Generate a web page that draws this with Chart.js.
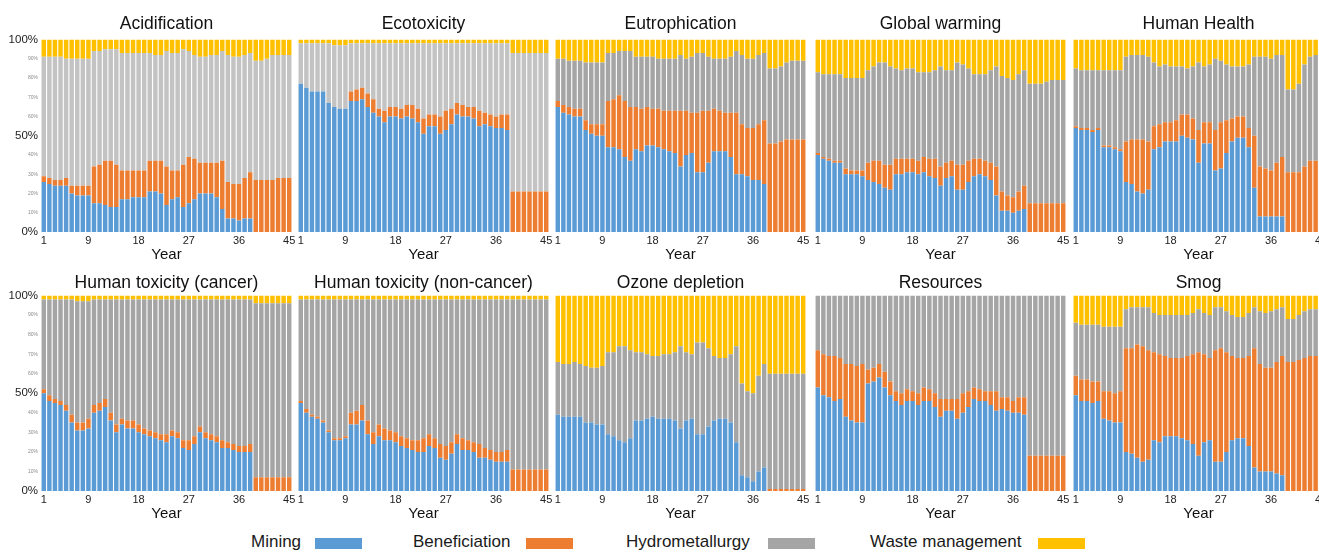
<!DOCTYPE html>
<html><head><meta charset="utf-8">
<script src="https://cdn.jsdelivr.net/npm/chart.js@4/dist/chart.umd.min.js"></script>
<style>
html,body{margin:0;padding:0;background:#fff;overflow:hidden;width:1319px;height:552px;position:relative;}
.lt{position:absolute;top:532px;white-space:nowrap;line-height:20px;font-family:"Liberation Sans",Arial,sans-serif;font-size:17px;color:#1a1a1a;}
.sw{position:absolute;top:538px;width:47px;height:11px;}
</style></head><body>
<script>
// ---------- data ----------
const years = [1,2,3,4,5,6,7,8,9,10,11,12,13,14,15,16,17,18,19,20,21,22,23,24,25,26,27,28,29,30,31,32,33,34,35,36,37,38,39,40,41,42,43,44,45];
const tickYears = [1, 9, 18, 27, 36, 45];
const seriesNames = ['Mining', 'Beneficiation', 'Hydrometallurgy', 'Waste management'];
const panelTitles = ['Acidification','Ecotoxicity','Eutrophication','Global warming','Human Health',
  'Human toxicity (cancer)','Human toxicity (non-cancer)','Ozone depletion','Resources','Smog'];

const acidMining = [26,25,24,24,24,20,19,19,19,15,15,14,13,13,17,17,18,18,18,21,21,20,14,17,18,13,15,17,20,20,20,18,12,7,7,6,7,7,0,0,0,0,0,0,0];
const acidBenef  = [3,3,3,3,4,4,5,5,5,19,20,23,24,22,15,15,14,14,14,16,16,17,20,15,14,22,24,21,16,16,16,18,25,19,18,19,21,24,27,27,27,27,28,28,28];
const acidHydro  = [62,63,64,64,62,66,66,66,66,60,59,58,58,60,61,61,61,61,61,56,55,55,60,61,61,60,55,54,55,55,56,56,57,66,66,66,64,62,62,62,63,65,64,64,64];
const acidWaste  = [9,9,9,9,10,10,10,10,10,6,6,5,5,5,7,7,7,7,7,7,8,8,6,7,7,5,6,8,9,9,8,8,6,8,9,9,8,7,11,11,10,8,8,8,8];

const ecoMining = [77,75,73,73,73,67,65,64,64,68,68,69,65,62,60,57,60,60,59,60,59,57,51,55,55,51,53,56,61,60,60,59,55,56,55,54,54,53,0,0,0,0,0,0,0];
const ecoBenef  = [0,0,0,0,0,0,0,0,0,5,6,6,7,7,4,6,5,5,5,6,7,7,8,6,6,9,10,8,6,6,5,6,8,6,6,6,7,8,21,21,21,21,21,21,21];
const ecoHydro  = [21,23,25,25,25,31,32,33,33,25,24,23,26,29,34,35,33,33,34,32,32,34,39,37,37,38,35,34,31,32,33,33,35,36,37,38,37,37,72,72,72,72,72,72,72];
const ecoWaste  = [2,2,2,2,2,2,3,3,3,2,2,2,2,2,2,2,2,2,2,2,2,2,2,2,2,2,2,2,2,2,2,2,2,2,2,2,2,2,7,7,7,7,7,7,7];

const eutMining = [65,62,61,60,60,53,51,50,50,44,44,43,39,37,43,42,45,45,44,43,42,41,34,40,41,31,31,36,42,42,42,39,30,30,29,27,27,25,0,0,0,0,0,0,0];
const eutBenef  = [3,4,4,4,4,5,5,6,6,24,25,28,29,28,22,22,20,19,20,20,21,22,29,23,21,31,32,27,22,21,20,23,32,26,25,27,29,33,46,46,47,48,48,48,48];
const eutHydro  = [22,24,24,25,25,30,32,32,32,25,24,23,26,29,26,27,26,27,26,27,27,27,29,27,29,31,30,28,26,27,28,29,32,36,36,36,36,35,39,39,39,40,41,41,41];
const eutWaste  = [10,10,11,11,11,12,12,12,12,7,7,6,6,6,9,9,9,9,10,10,10,10,8,10,9,7,7,9,10,10,10,9,6,8,10,10,8,7,15,15,14,12,11,11,11];

const gwMining = [40,38,37,36,36,30,30,30,29,27,26,25,23,22,30,30,31,31,30,31,29,28,24,28,29,22,22,26,29,30,29,27,19,11,11,10,11,12,0,0,0,0,0,0,0];
const gwBenef  = [1,1,1,1,1,3,2,2,3,9,11,12,12,13,8,8,7,7,7,8,9,10,10,8,8,13,13,11,9,8,8,9,15,10,8,8,10,12,15,15,15,15,15,15,15];
const gwHydro  = [42,43,44,45,45,47,48,48,48,48,49,51,53,51,47,46,47,47,46,44,45,46,52,48,47,53,52,48,44,44,45,48,52,60,61,61,61,60,62,62,62,63,64,64,64];
const gwWaste  = [17,18,18,18,18,20,20,20,20,16,14,12,12,14,15,16,15,15,17,17,17,16,14,16,16,12,13,15,18,18,18,16,14,19,20,21,18,16,23,23,23,22,21,21,21];

const hhMining = [54,53,53,52,53,44,44,43,42,26,25,21,20,22,43,44,47,47,47,50,49,48,36,46,46,32,33,41,47,49,49,44,23,8,8,8,8,8,0,0,0,0,0,0,0];
const hhBenef  = [1,1,1,1,1,1,1,1,1,21,23,27,28,25,12,12,10,10,11,11,12,11,17,11,11,21,24,17,12,11,11,10,27,26,25,24,28,31,31,31,31,34,37,37,37];
const hhHydro  = [30,30,30,31,30,39,39,40,41,44,44,44,44,44,33,30,30,29,28,25,24,27,35,29,30,37,32,29,27,26,26,33,41,57,58,58,56,53,43,43,46,53,54,55,55];
const hhWaste  = [15,16,16,16,16,16,16,16,16,9,8,8,8,9,12,14,13,14,14,14,15,14,12,14,13,10,11,13,14,14,14,13,9,9,9,10,8,8,26,26,23,13,9,8,8];

const htcMining = [50,46,45,44,41,35,31,31,32,40,41,43,36,30,34,32,32,30,29,28,27,26,25,28,27,22,21,24,30,27,26,25,22,22,21,20,20,20,0,0,0,0,0,0,0];
const htcBenef  = [2,3,2,2,3,4,4,4,5,4,4,4,4,4,3,4,4,4,3,3,3,3,4,3,3,4,5,4,3,3,3,3,4,3,3,3,3,4,7,7,7,7,7,7,7];
const htcHydro  = [46,49,51,52,54,59,62,62,60,54,53,51,58,64,61,62,62,64,66,67,68,69,69,67,68,72,72,70,65,68,69,70,72,73,74,75,75,74,89,89,89,89,89,89,89];
const htcWaste  = [2,2,2,2,2,2,3,3,3,2,2,2,2,2,2,2,2,2,2,2,2,2,2,2,2,2,2,2,2,2,2,2,2,2,2,2,2,2,4,4,4,4,4,4,4];

const htnMining = [45,40,38,37,35,30,26,26,27,34,34,36,29,24,28,26,26,25,23,22,21,20,20,23,22,17,16,19,24,21,21,20,17,17,16,15,15,15,0,0,0,0,0,0,0];
const htnBenef  = [1,2,1,1,1,1,1,1,1,6,7,8,7,6,6,6,5,5,5,5,5,6,7,6,5,7,7,6,5,6,5,5,7,5,5,5,5,6,11,11,11,11,11,11,11];
const htnHydro  = [52,56,59,60,62,67,71,71,70,58,57,54,62,68,64,66,67,68,70,71,72,72,71,69,71,74,75,73,69,71,72,73,74,76,77,78,78,77,87,87,87,87,87,87,87];
const htnWaste  = [2,2,2,2,2,2,2,2,2,2,2,2,2,2,2,2,2,2,2,2,2,2,2,2,2,2,2,2,2,2,2,2,2,2,2,2,2,2,2,2,2,2,2,2,2];

const ozMining = [39,38,38,38,38,35,35,34,34,29,28,26,25,27,36,36,37,38,37,37,37,36,32,36,37,29,29,33,36,37,37,35,25,8,7,5,10,12,0,0,0,0,0,0,0];
const ozBenef  = [0,0,0,0,0,0,0,0,0,0,0,0,0,0,0,0,0,0,0,0,0,0,0,0,0,0,0,0,0,0,0,0,0,0,0,0,0,0,1,1,1,1,1,1,1];
const ozHydro  = [27,27,27,28,27,29,28,29,30,42,43,48,49,45,35,35,33,31,32,33,33,35,42,35,33,47,47,40,33,31,31,35,49,47,44,45,49,53,59,59,59,59,59,59,59];
const ozWaste  = [34,35,35,34,35,36,37,37,36,29,29,26,26,28,29,29,30,31,31,30,30,29,26,29,30,24,24,27,31,32,32,30,26,45,49,50,41,35,40,40,40,40,40,40,40];

const resMining = [53,49,48,46,47,38,36,35,35,55,56,58,53,49,46,44,46,46,44,46,46,43,38,41,41,37,40,43,47,46,46,44,41,42,41,40,40,39,0,0,0,0,0,0,0];
const resBenef  = [19,21,21,23,21,27,29,29,30,7,7,7,8,7,5,6,6,5,6,7,6,7,9,6,6,10,10,8,6,6,5,7,10,6,7,6,8,9,18,18,18,18,18,18,18];
const resHydro  = [28,30,31,31,32,35,35,36,35,38,37,35,39,44,49,50,48,49,50,47,48,50,53,53,53,53,50,49,47,48,49,49,49,52,52,54,52,52,82,82,82,82,82,82,82];
const resWaste  = [0,0,0,0,0,0,0,0,0,0,0,0,0,0,0,0,0,0,0,0,0,0,0,0,0,0,0,0,0,0,0,0,0,0,0,0,0,0,0,0,0,0,0,0,0];

const smogMining = [49,46,46,45,46,37,36,35,35,20,19,17,15,16,26,25,28,28,28,27,26,24,18,25,26,15,15,20,26,27,27,23,12,10,10,10,9,8,0,0,0,0,0,0,0];
const smogBenef  = [10,11,11,11,10,14,15,15,16,53,54,58,59,56,45,45,41,40,40,41,43,46,53,45,42,57,58,51,43,41,41,46,61,55,53,53,57,61,66,66,67,68,69,69,69];
const smogHydro  = [27,28,28,29,29,33,33,34,33,20,21,19,20,22,20,20,21,22,22,22,21,21,22,21,22,22,21,21,21,21,21,22,21,27,28,29,27,25,22,22,23,24,24,24,24];
const smogWaste  = [14,15,15,15,15,16,16,16,16,7,6,6,6,6,9,10,10,10,10,10,10,9,7,9,10,6,6,8,10,11,11,9,6,8,9,8,7,6,12,12,10,8,7,7,7];

// ---------- styling / layout ----------
const FONT = '"Liberation Sans", Arial, sans-serif';
const BLUE = '#5B9BD5', ORANGE = '#ED7D31', GRAY = '#A5A5A5', LIGHTGRAY = '#C3C3C3', YELLOW = '#FFC000';
const COLS = [41, 298, 555, 815, 1073];
const PLOT_W = 251;
const RIGHT_PAD = 10;
const ROWS = [{top:0, h:265, padT:15, padB:7}, {top:265, h:259, padT:9, padB:4}];

const panelSeries = [
  [acidMining, acidBenef, acidHydro, acidWaste],
  [ecoMining, ecoBenef, ecoHydro, ecoWaste],
  [eutMining, eutBenef, eutHydro, eutWaste],
  [gwMining, gwBenef, gwHydro, gwWaste],
  [hhMining, hhBenef, hhHydro, hhWaste],
  [htcMining, htcBenef, htcHydro, htcWaste],
  [htnMining, htnBenef, htnHydro, htnWaste],
  [ozMining, ozBenef, ozHydro, ozWaste],
  [resMining, resBenef, resHydro, resWaste],
  [smogMining, smogBenef, smogHydro, smogWaste]
];
const panelGray = [LIGHTGRAY, LIGHTGRAY, GRAY, GRAY, GRAY, GRAY, GRAY, GRAY, GRAY, GRAY];

function makeChart(idx) {
  const row = Math.floor(idx / 5), col = idx % 5;
  const R = ROWS[row];
  const first = col === 0;
  const left = first ? 0 : COLS[col];
  const width = (first ? COLS[0] + PLOT_W : PLOT_W) + RIGHT_PAD;
  const canvas = document.createElement('canvas');
  canvas.width = width; canvas.height = R.h;
  canvas.style.cssText = `position:absolute;left:${left}px;top:${R.top}px;width:${width}px;height:${R.h}px;`;
  document.body.appendChild(canvas);
  const s = panelSeries[idx];
  const colors = [BLUE, ORANGE, panelGray[idx], YELLOW];
  new Chart(canvas, {
    type: 'bar',
    data: {
      labels: years,
      datasets: seriesNames.map((n, k) => ({label: n, data: s[k], backgroundColor: colors[k], borderWidth: 0}))
    },
    options: {
      responsive: false, animation: false, devicePixelRatio: 1,
      layout: {padding: {left: 0, top: 0, bottom: 0, right: RIGHT_PAD}},
      datasets: {bar: {barPercentage: 0.8, categoryPercentage: 1}},
      plugins: {
        legend: {display: false}, tooltip: {enabled: false},
        title: {display: true, text: panelTitles[idx], fullSize: false, color: '#111',
          font: {family: FONT, size: 17.5, weight: 'normal', lineHeight: 1},
          padding: {top: R.padT, bottom: R.padB}}
      },
      scales: {
        x: {
          stacked: true, grid: {display: false, drawTicks: false}, border: {display: false},
          ticks: {autoSkip: false, maxRotation: 0, minRotation: 0, padding: 2, color: '#222',
            font: {family: FONT, size: 11, lineHeight: 1.2},
            callback: (v, i) => tickYears.includes(years[i]) ? String(years[i]) : null},
          title: {display: true, text: 'Year', color: '#111',
            font: {family: FONT, size: 15, lineHeight: 1.2}, padding: {top: 0, bottom: 1}},
          afterFit: sc => { sc.height = 33; sc.paddingLeft = 0; sc.paddingRight = 0; }
        },
        y: {
          stacked: true, min: 0, max: 100, display: first,
          grid: {display: false, drawTicks: false}, border: {display: false},
          ticks: {stepSize: 10, padding: 3,
            callback: v => v + '%',
            font: c => ({family: FONT, size: (c.tick && c.tick.value % 50 === 0) ? 11.5 : 5}),
            color: c => (c.tick && c.tick.value % 50 === 0) ? '#222' : '#8a8a8a'},
          afterFit: sc => { if (first) { sc.width = 41; } sc.paddingTop = 0; sc.paddingBottom = 0; }
        }
      }
    }
  });
}
for (let i = 0; i < 10; i++) makeChart(i);

// ---------- legend ----------
const legendText = [251, 413, 626, 870];
const legendSwatch = [315, 526, 768, 1038];
const legendColors = [BLUE, ORANGE, GRAY, YELLOW];
seriesNames.forEach((n, k) => {
  const t = document.createElement('div');
  t.className = 'lt'; t.style.left = legendText[k] + 'px'; t.textContent = n;
  document.body.appendChild(t);
  const sw = document.createElement('div');
  sw.className = 'sw'; sw.style.left = legendSwatch[k] + 'px'; sw.style.background = legendColors[k];
  document.body.appendChild(sw);
});
</script>
</body></html>
